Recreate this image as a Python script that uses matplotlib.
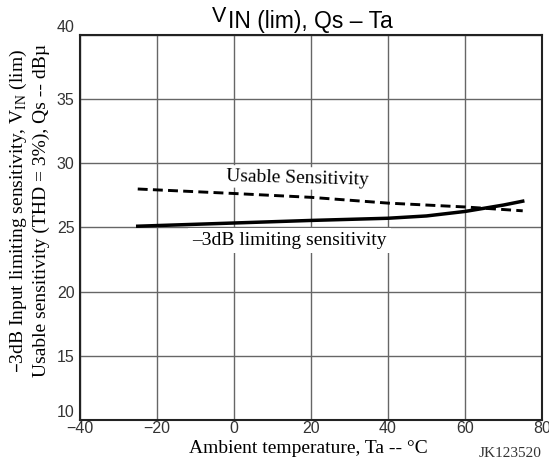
import matplotlib.pyplot as plt

# data
ta_usable = [-25, 0, 20, 40, 60, 75]
usable = [28.0, 27.65, 27.35, 26.9, 26.6, 26.3]

ta_limit = [-25, 0, 20, 40, 50, 60, 70, 75]
limiting = [25.1, 25.35, 25.55, 25.72, 25.9, 26.25, 26.75, 27.05]

xticks = [-40, -20, 0, 20, 40, 60, 80]
yticks = [10, 15, 20, 25, 30, 35, 40]

serif = "Liberation Serif"
sans = "Liberation Sans"

fig = plt.figure(figsize=(5.49, 4.63), dpi=100)
ax = fig.add_axes([0.1457, 0.0929, 0.8415, 0.8315])

ax.plot(ta_usable, usable, color="black", lw=2.1, ls=(0, (3.4, 1.8)), zorder=5)
ax.plot(ta_limit, limiting, color="black", lw=2.5, zorder=5)

ax.set_xlim(-40, 80)
ax.set_ylim(10, 40)
ax.set_xticks(xticks)
ax.set_yticks(yticks)
ax.set_xticklabels(["\u221240", "\u221220", "0", "20", "40", "60", "80"])
ax.tick_params(length=0, labelsize=11.5)
ax.tick_params(axis="x", pad=1)
ax.tick_params(axis="y", pad=4)
for lab in ax.get_xticklabels() + ax.get_yticklabels():
    lab.set_family(sans)
    lab.set_color("#333333")
ylabs = ax.get_yticklabels()
ylabs[0].set_va("bottom")
ylabs[-1].set_va("bottom")
ax.grid(True, color="#666666", lw=1.0)
for s in ax.spines.values():
    s.set_linewidth(1.5)
    s.set_color("#222222")

ax.text(16.6, 28.85, "Usable Sensitivity", family=serif, fontsize=14,
        ha="center", va="center", zorder=3, rotation=-1.5,
        bbox=dict(facecolor="white", edgecolor="none", pad=2))
ax.text(14.5, 24.0, "\u20133dB limiting sensitivity", family=serif, fontsize=14,
        ha="center", va="center", zorder=3,
        bbox=dict(facecolor="white", edgecolor="none", pad=3))

# title: V raised, rest on the lower baseline
fig.text(0.386, 0.9525, "V", family=sans, fontsize=15.5, ha="left", va="baseline")
fig.text(0.416, 0.9395, "IN (lim), Qs \u2013 Ta", family=sans, fontsize=16.5,
         ha="left", va="baseline")

fig.text(0.034, 0.545, "\u20133dB Input limiting sensitivity, V$_{\\mathregular{IN}}$ (lim)",
         family=serif, fontsize=14, rotation=90, ha="center", va="center")
fig.text(0.075, 0.545, "Usable sensitivity (THD = 3%), Qs -- dB\u00b5",
         family=serif, fontsize=14, rotation=90, ha="center", va="center")

fig.text(0.561, 0.032, "Ambient temperature, Ta -- \u00b0C", family=serif,
         fontsize=14, ha="center", va="center")
fig.text(0.929, 0.0195, "JK123520", family=serif, fontsize=11,
         ha="center", va="center", color="#333333")

fig.savefig("out.png", dpi=100)
